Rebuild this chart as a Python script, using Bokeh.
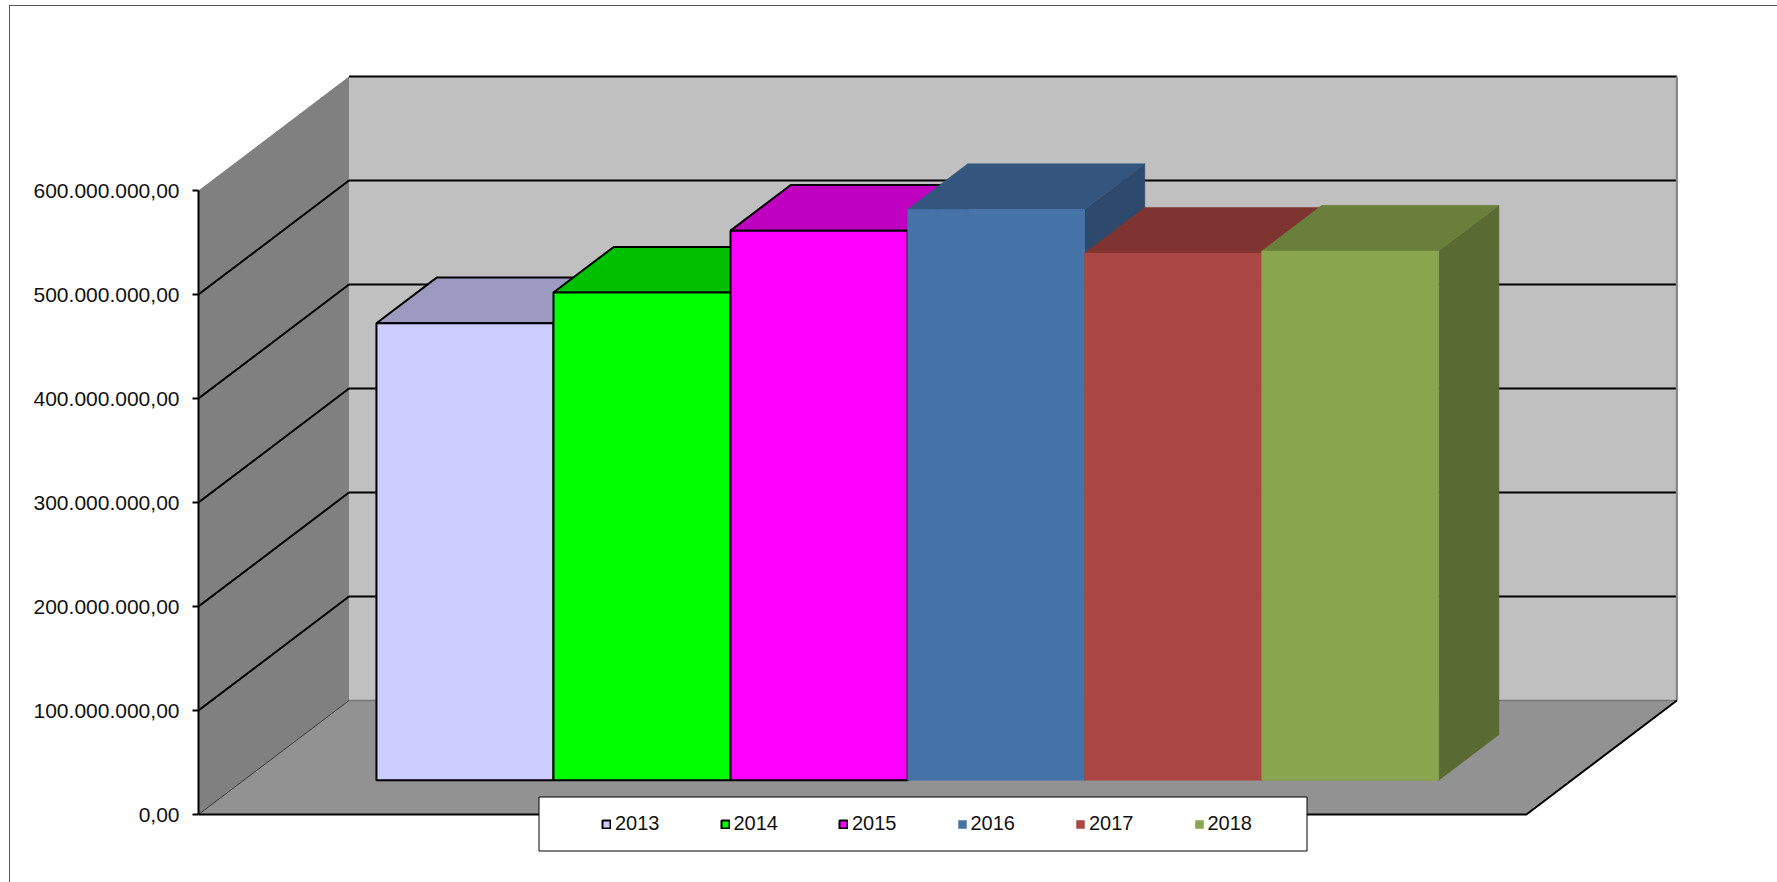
from bokeh.embed import file_html
from bokeh.resources import INLINE
from bokeh.models import BoxAnnotation, FixedTicker, Legend, LegendItem, LinearAxis, Range1d
from bokeh.plotting import figure

years = ["2013", "2014", "2015", "2016", "2017", "2018"]
values = [439500000, 469000000, 528500000, 549000000, 507000000, 509000000]
tick_values = [0, 100000000, 200000000, 300000000, 400000000, 500000000, 600000000]
tick_labels = ["0,00", "100.000.000,00", "200.000.000,00", "300.000.000,00",
               "400.000.000,00", "500.000.000,00", "600.000.000,00"]

front_colors = ["#CCCCFF", "#00FF00", "#FF00FF", "#4572A7", "#AA4643", "#89A54E"]
top_colors = ["#9C9AC1", "#00C000", "#C000C0", "#34557D", "#803431", "#6A7F3B"]
side_colors = ["#8F8FB3", "#00A000", "#A000A0", "#2D4A6C", "#6F2D2B", "#596B33"]
outlined = [True, True, True, False, False, False]

# Chart geometry, as 3D-model units: one x unit is one bar width, z runs 0..1 front to back.
FLOOR_W = 7.5
GAP = 0.75
Z0, Z1 = 0.3, 0.7
PX_PER_X = 177.05
PX_PER_V = 1.04e-6
DX = 150.5 / PX_PER_X       # x shift of the full depth
DV = 114 / PX_PER_V         # vertical shift of the full depth, in value units
TOP = tick_values[-1]

W, H = 1777, 882
AXIS_PX, ZERO_PX = 198, 814


def px(x, v, z):
    return x + z * DX, v + z * DV


def poly(points):
    pts = [px(*q) for q in points]
    return [a for a, _ in pts], [b for _, b in pts]


# outer frame: only its top and left edges fall on the page
frame_css = """:host::before {content: ""; position: absolute; left: 9px; top: 5px; right: 0; bottom: 0;
  border-left: 1px solid #555555; border-top: 1px solid #555555; z-index: 10; pointer-events: none;}"""

p = figure(width=W, height=H, output_backend="svg", toolbar_location=None,
           x_range=Range1d(0, (W - AXIS_PX) / PX_PER_X),
           y_range=Range1d(-(H - ZERO_PX) / PX_PER_V, ZERO_PX / PX_PER_V),
           x_axis_location=None, y_axis_location=None,
           min_border_left=AXIS_PX, min_border_right=0, min_border_top=0, min_border_bottom=0,
           outline_line_color=None, margin=0, stylesheets=[frame_css])
p.grid.visible = False

# walls and floor
xs, ys = poly([(0, 0, 1), (FLOOR_W, 0, 1), (FLOOR_W, TOP, 1), (0, TOP, 1)])
p.patch(xs, ys, fill_color="#C0C0C0", line_color=None)
xs, ys = poly([(0, 0, 0), (0, 0, 1), (0, TOP, 1), (0, TOP, 0)])
p.patch(xs, ys, fill_color="#808080", line_color=None)
xs, ys = poly([(0, 0, 0), (FLOOR_W, 0, 0), (FLOOR_W, 0, 1), (0, 0, 1)])
p.patch(xs, ys, fill_color="#929292", line_color=None)

# gridlines on the back wall and on the side wall
for t in tick_values[1:]:
    xs, ys = poly([(0, t, 1), (FLOOR_W, t, 1)])
    p.line(xs, ys, line_color="black", line_width=2)
    if t < TOP:
        xs, ys = poly([(0, t, 0), (0, t, 1)])
        p.line(xs, ys, line_color="black", line_width=2)

# floor and wall edges
xs, ys = poly([(0, 0, 1), (FLOOR_W, 0, 1)])
p.line(xs, ys, line_color="#777777", line_width=1.5)
xs, ys = poly([(FLOOR_W, 0, 1), (FLOOR_W, TOP, 1)])
p.line(xs, ys, line_color="#808080", line_width=2)
xs, ys = poly([(0, 0, 0), (0, 0, 1)])
p.line(xs, ys, line_color="#333333", line_width=1)
xs, ys = poly([(0, 0, 0), (FLOOR_W, 0, 0), (FLOOR_W, 0, 1)])
p.line(xs, ys, line_color="black", line_width=2)

# bars, left to right
legend_items = []
for i, (year, v) in enumerate(zip(years, values)):
    a, b = GAP + i, GAP + i + 1
    lc = "black" if outlined[i] else None
    xs, ys = poly([(b, 0, Z0), (b, 0, Z1), (b, v, Z1), (b, v, Z0)])
    p.patch(xs, ys, fill_color=side_colors[i], line_color=lc or side_colors[i], line_width=2 if lc else 0.5)
    xs, ys = poly([(a, v, Z0), (b, v, Z0), (b, v, Z1), (a, v, Z1)])
    p.patch(xs, ys, fill_color=top_colors[i], line_color=lc or top_colors[i], line_width=2 if lc else 0.5)
    xs, ys = poly([(a, 0, Z0), (b, 0, Z0), (b, v, Z0), (a, v, Z0)])
    r = p.patch(xs, ys, fill_color=front_colors[i], line_color=lc or front_colors[i], line_width=2 if lc else 0.5)
    legend_items.append(LegendItem(label=year, renderers=[r]))

# value axis
axis = LinearAxis(ticker=FixedTicker(ticks=tick_values), bounds=(0, TOP),
                  major_label_overrides={t: s for t, s in zip(tick_values, tick_labels)})
axis.axis_line_color = "black"
axis.axis_line_width = 2
axis.major_tick_line_color = "black"
axis.major_tick_line_width = 2
axis.major_tick_out = 6
axis.major_tick_in = 0
axis.minor_tick_line_color = None
axis.major_label_standoff = 13
axis.major_label_text_font = "Liberation Sans"
axis.major_label_text_font_size = "21px"
axis.major_label_text_color = "#111111"
p.add_layout(axis, "left")


def screen_box(left, right, top, bottom, **kw):
    # box annotations in screen units count from the frame's lower left corner
    return BoxAnnotation(left=left - AXIS_PX, right=right - AXIS_PX, top=H - top, bottom=H - bottom,
                         left_units="screen", right_units="screen",
                         top_units="screen", bottom_units="screen", **kw)


# legend box
p.add_layout(screen_box(538.5, 1306.5, 796.5, 850.5, fill_color="white", fill_alpha=1,
                        line_color="black", line_alpha=1, line_width=1))

legend = Legend(items=legend_items, orientation="horizontal",
                location=(601 - AXIS_PX, H - 835),
                padding=0, margin=0, spacing=60, label_standoff=4,
                glyph_width=10, glyph_height=10,
                label_text_font="Liberation Sans", label_text_font_size="20px",
                label_text_color="#111111",
                background_fill_alpha=0, border_line_color=None)
p.add_layout(legend, "center")

open("out.html", "w").write(file_html(p, INLINE))
